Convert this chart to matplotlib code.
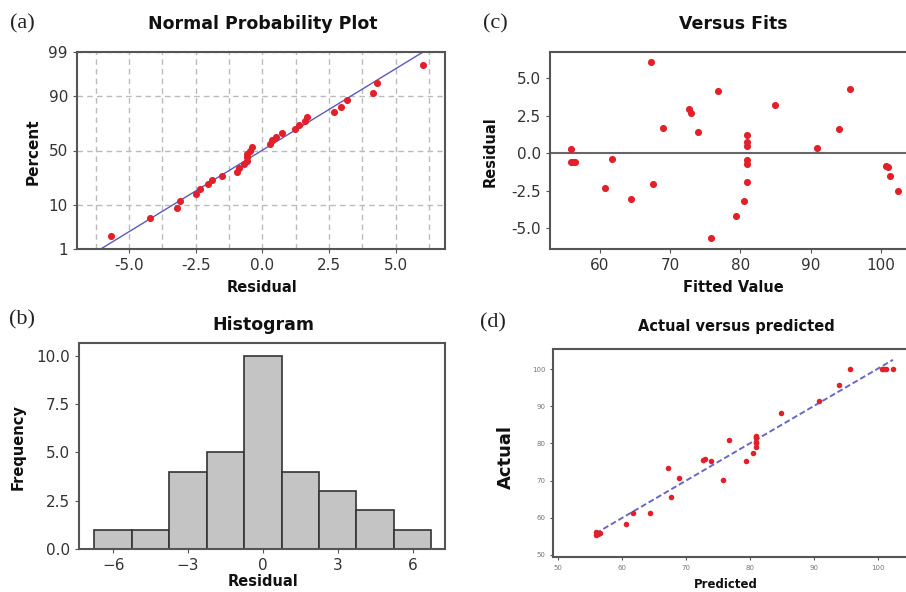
import numpy as np
import matplotlib.pyplot as plt
from statistics import NormalDist

# fitted values and residuals (31 runs) (c)/(d)
fitted = [55.96, 55.9, 56.2, 56.5, 60.7, 61.76, 64.41, 67.26, 67.6, 68.97,
          72.67, 73.0, 73.9, 75.8, 76.75, 79.35, 80.55, 80.93, 80.93, 80.93,
          80.93, 80.93, 80.93, 84.96, 90.9, 93.98, 95.64, 100.7, 101.05, 101.3,
          102.4]
residual = [0.27, -0.58, -0.58, -0.58, -2.32, -0.40, -3.08, 6.04, -2.04, 1.66,
            2.96, 2.68, 1.37, -5.66, 4.16, -4.2, -3.2, -1.9, 1.21, 0.72,
            0.5, -0.45, -0.7, 3.19, 0.35, 1.59, 4.29, -0.88, -0.95, -1.5,
            -2.5]
actual = [56.2, 55.3, 55.6, 55.9, 58.4, 61.4, 61.3, 73.3, 65.6, 70.6,
          75.6, 75.7, 75.3, 70.1, 80.9, 75.2, 77.4, 79.0, 82.1, 81.7,
          81.4, 80.5, 80.2, 88.2, 91.3, 95.6, 100.0, 100.0, 100.0, 100.0,
          100.0]

pct_ticks = [1, 10, 50, 90, 99]
hist_edges = np.arange(-6.75, 6.8, 1.5)

RED = '#e3202a'
SPINE = '#555555'
TXT = '#333333'

plt.rcParams['font.family'] = ['DejaVu Sans']

fig = plt.figure(figsize=(9.06, 5.92), dpi=100)
W, H = 906.0, 592.0


def px_axes(l, t, r, b):
    return fig.add_axes([l / W, 1 - b / H, (r - l) / W, (b - t) / H])


def ftext(x, y, s, **kw):
    fig.text(x / W, 1 - y / H, s, ha='center', va='center', **kw)


def style(ax, size=11, color=TXT, lw=1.5):
    for sp in ax.spines.values():
        sp.set_color(SPINE)
        sp.set_linewidth(lw)
    ax.tick_params(labelsize=size, labelcolor=color, color=SPINE, length=3)


nd = NormalDist()

# (a) normal probability plot
ax = px_axes(77, 52, 445, 249)
res_sorted = np.sort(residual)
n = len(res_sorted)
z = [nd.inv_cdf((i + 1 - 0.3) / (n + 0.4)) for i in range(n)]
mu, sd = np.mean(residual), np.std(residual, ddof=1)
zl = np.array([nd.inv_cdf(0.01), nd.inv_cdf(0.99)])
ax.plot(mu + sd * zl, zl, color='#5a5ac0', lw=1, zorder=2)
ax.scatter(res_sorted, z, s=26, color=RED, zorder=3, linewidths=0)
ax.set_xlim(-6.95, 6.85)
ax.set_ylim(zl[0], zl[1])
ax.set_xticks([-5, -2.5, 0, 2.5, 5])
ax.set_xticklabels(['-5.0', '-2.5', '0.0', '2.5', '5.0'])
ax.set_yticks([nd.inv_cdf(p / 100) for p in pct_ticks])
ax.set_yticklabels([str(p) for p in pct_ticks])
for gx in np.arange(-6.25, 6.3, 1.25):
    ax.axvline(gx, color='#bbbbbb', lw=1, ls=(0, (4, 3)), zorder=1)
for gy in ax.get_yticks():
    ax.axhline(gy, color='#bbbbbb', lw=1, ls=(0, (4, 3)), zorder=1)
style(ax)

# (b) histogram
ax = px_axes(79, 343, 445, 549)
ax.hist(residual, bins=hist_edges, color='#c4c4c4', edgecolor='#333333', lw=1.2)
ax.set_xlim(-7.37, 7.3)
ax.set_ylim(0, 10.66)
ax.set_xticks([-6, -3, 0, 3, 6])
ax.set_yticks([0, 2.5, 5, 7.5, 10])
ax.set_yticklabels(['0.0', '2.5', '5.0', '7.5', '10.0'])
style(ax)

# (c) versus fits
ax = px_axes(550, 52, 923, 249)
ax.axhline(0, color='#666666', lw=1.5, zorder=1)
ax.scatter(fitted, residual, s=26, color=RED, zorder=3, linewidths=0)
ax.set_xlim(52.9, 106)
ax.set_ylim(-6.39, 6.73)
ax.set_xticks([60, 70, 80, 90, 100])
ax.set_yticks([-5, -2.5, 0, 2.5, 5])
ax.set_yticklabels(['-5.0', '-2.5', '0.0', '2.5', '5.0'])
style(ax)

# (d) actual versus predicted
ax = px_axes(553, 349, 916, 557)
k, c = np.polyfit(fitted, actual, 1)
xl = np.array([min(fitted), max(fitted)])
ax.plot(xl, k * xl + c, color='#6868cc', lw=1.4, ls=(0, (3, 1.5)), zorder=2)
ax.scatter(fitted, actual, s=16, color=RED, zorder=3, linewidths=0)
ax.set_xlim(49.22, 106)
ax.set_ylim(49.46, 105.4)
ax.set_xticks([50, 60, 70, 80, 90, 100])
ax.set_yticks([50, 60, 70, 80, 90, 100])
style(ax, size=5, color='#777777')
ax.tick_params(length=2)

# titles, panel letters and axis labels
tkw = dict(fontweight='bold', color='#111111')
ftext(263, 24, 'Normal Probability Plot', fontsize=12.5, **tkw)
ftext(733, 24, 'Versus Fits', fontsize=12.5, **tkw)
ftext(263, 325, 'Histogram', fontsize=12.5, **tkw)
ftext(736, 327, 'Actual versus predicted', fontsize=10.5, **tkw)

lkw = dict(family='Liberation Serif', fontsize=16, color='#222222')
ftext(22, 24, '(a)', **lkw)
ftext(495, 24, '(c)', **lkw)
ftext(22, 320, '(b)', **lkw)
ftext(493, 323, '(d)', **lkw)

ftext(262, 287, 'Residual', fontsize=10.5, **tkw)
ftext(33, 152, 'Percent', fontsize=11, rotation=90, **tkw)
ftext(733, 287, 'Fitted Value', fontsize=10.5, **tkw)
ftext(490, 152, 'Residual', fontsize=10.5, rotation=90, **tkw)
ftext(263, 582, 'Residual', fontsize=10.5, **tkw)
ftext(18, 447, 'Frequency', fontsize=10.5, rotation=90, **tkw)
ftext(726, 584, 'Predicted', fontsize=8.5, **tkw)
ftext(506, 457, 'Actual', fontsize=13, rotation=90, **tkw)

fig.savefig('out.png', dpi=100)
